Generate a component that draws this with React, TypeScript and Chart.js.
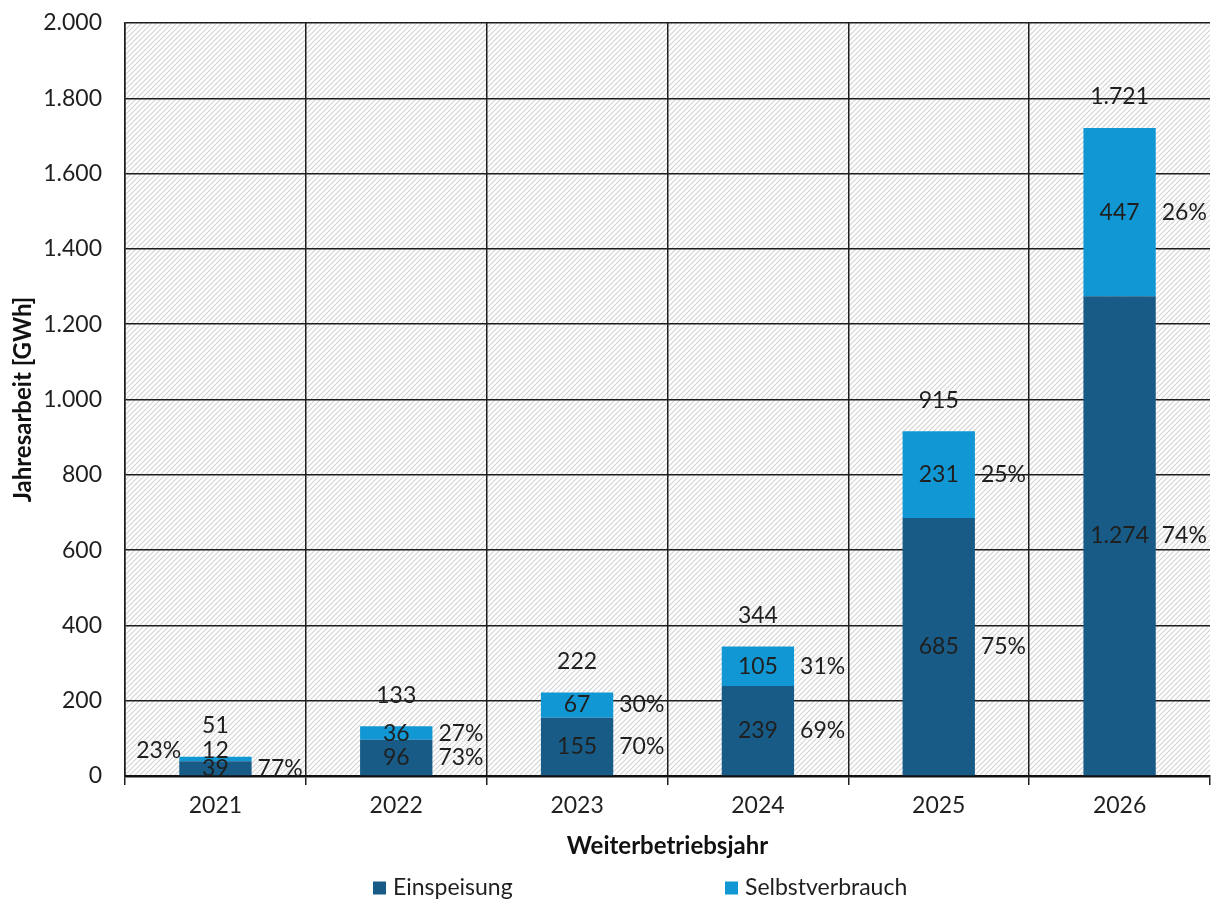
import React, { useEffect, useRef } from "react";
import { Chart, registerables } from "chart.js";

Chart.register(...registerables);

const categories = ["2021", "2022", "2023", "2024", "2025", "2026"];
const einspeisung = [39, 96, 155, 239, 685, 1274];
const selbstverbrauch = [12, 36, 67, 105, 231, 447];
const totals = [51, 133, 222, 344, 915, 1721];
const einspeisungPct = ["77%", "73%", "70%", "69%", "75%", "74%"];
const selbstverbrauchPct = ["23%", "27%", "30%", "31%", "25%", "26%"];
const seriesNames = ["Einspeisung", "Selbstverbrauch"];
const seriesColors = ["#175b86", "#1198d4"];
const yTitle = "Jahresarbeit [GWh]";
const xTitle = "Weiterbetriebsjahr";
const yMin = 0;
const yMax = 2000;
const yStep = 200;

const FONT = "Lato";
const TEXT = "#1f1f1f";
const LINE = "#1e1e1e";

const fmt = (v: number) =>
  String(Math.round(v)).replace(/\B(?=(\d{3})+(?!\d))/g, ".");

function makePattern(ctx: CanvasRenderingContext2D) {
  const s = 5;
  const c = document.createElement("canvas");
  c.width = s;
  c.height = s;
  const g = c.getContext("2d")!;
  g.fillStyle = "#ffffff";
  g.fillRect(0, 0, s, s);
  g.strokeStyle = "#d4d4d4";
  g.lineWidth = 1.2;
  g.beginPath();
  g.moveTo(-1, s + 1);
  g.lineTo(s + 1, -1);
  g.moveTo(-1, 1);
  g.lineTo(1, -1);
  g.moveTo(s - 1, s + 1);
  g.lineTo(s + 1, s - 1);
  g.stroke();
  return ctx.createPattern(c, "repeat");
}

const hatchPlugin = {
  id: "hatchBg",
  beforeDraw(chart: any) {
    const { ctx, chartArea } = chart;
    const p = makePattern(ctx);
    if (!p) return;
    ctx.save();
    ctx.fillStyle = p;
    ctx.fillRect(
      chartArea.left,
      chartArea.top,
      chartArea.right - chartArea.left,
      chartArea.bottom - chartArea.top
    );
    ctx.restore();
  },
};

const labelPlugin = {
  id: "barLabels",
  afterDatasetsDraw(chart: any) {
    const { ctx } = chart;
    const m0 = chart.getDatasetMeta(0);
    const m1 = chart.getDatasetMeta(1);
    ctx.save();
    ctx.font = `23px ${FONT}`;
    ctx.textBaseline = "middle";
    ctx.fillStyle = TEXT;
    for (let i = 0; i < categories.length; i++) {
      const b0 = m0.data[i];
      const b1 = m1.data[i];
      const left = b0.x - b0.width / 2;
      const right = b0.x + b0.width / 2;
      const y0 = (b0.y + b0.base) / 2;
      const y1 = Math.min((b1.y + b1.base) / 2, y0 - 18);

      ctx.textAlign = "center";
      ctx.fillText(fmt(einspeisung[i]), b0.x, y0);
      ctx.fillText(fmt(selbstverbrauch[i]), b1.x, y1);
      ctx.fillText(fmt(totals[i]), b1.x, b1.y - 31);

      ctx.textAlign = "left";
      ctx.fillText(einspeisungPct[i], right + 6, y0);
      if (Math.abs(b1.base - b1.y) < 8) {
        ctx.textAlign = "right";
        ctx.fillText(selbstverbrauchPct[i], left + 2, y1);
      } else {
        ctx.fillText(selbstverbrauchPct[i], right + 6, y1);
      }
    }
    ctx.restore();
  },
};

const legendPlugin = {
  id: "customLegend",
  afterDraw(chart: any) {
    const { ctx } = chart;
    const items = [
      { x: 373, label: chart.data.datasets[0].label, color: chart.data.datasets[0].backgroundColor },
      { x: 725, label: chart.data.datasets[1].label, color: chart.data.datasets[1].backgroundColor },
    ];
    const yc = 888;
    ctx.save();
    ctx.font = `23px ${FONT}`;
    ctx.textBaseline = "middle";
    ctx.textAlign = "left";
    for (const it of items) {
      ctx.fillStyle = it.color;
      ctx.fillRect(it.x, yc - 6.5, 13, 13);
      ctx.fillStyle = TEXT;
      ctx.fillText(it.label, it.x + 20, yc);
    }
    ctx.restore();
  },
};

export default function App() {
  const ref = useRef<HTMLCanvasElement | null>(null);

  useEffect(() => {
    if (!ref.current) return;
    const chart = new Chart(ref.current, {
      type: "bar",
      data: {
        labels: categories,
        datasets: [
          {
            label: seriesNames[0],
            data: einspeisung,
            backgroundColor: seriesColors[0],
            borderWidth: 0,
            barPercentage: 0.4,
            categoryPercentage: 1,
          },
          {
            label: seriesNames[1],
            data: selbstverbrauch,
            backgroundColor: seriesColors[1],
            borderWidth: 0,
            barPercentage: 0.4,
            categoryPercentage: 1,
          },
        ],
      },
      options: {
        responsive: false,
        animation: false,
        layout: { padding: { top: 23, right: 6, bottom: 37, left: 0 } },
        plugins: {
          legend: { display: false },
          tooltip: { enabled: false },
        },
        scales: {
          x: {
            stacked: true,
            offset: true,
            grid: {
              offset: true,
              color: (c: any) => (c.type === "tick" ? LINE : "rgba(0,0,0,0)"),
              lineWidth: 1.5,
              tickColor: LINE,
              tickLength: 9,
              drawTicks: true,
            },
            border: { display: true, color: "#111", width: 2.5 },
            ticks: {
              font: { family: FONT, size: 23 },
              color: TEXT,
              padding: 7,
            },
            title: {
              display: true,
              text: xTitle,
              font: { family: FONT, size: 24, weight: "bold" },
              color: "#111",
              padding: { top: 0, bottom: 2 },
            },
            afterFit: (s: any) => {
              s.height = 87;
            },
          },
          y: {
            stacked: true,
            min: yMin,
            max: yMax,
            ticks: {
              stepSize: yStep,
              callback: (v: any) => fmt(Number(v)),
              font: { family: FONT, size: 23 },
              color: TEXT,
              padding: 23,
            },
            grid: { color: LINE, lineWidth: 1.5, drawTicks: false },
            border: { display: true, color: LINE, width: 1.5 },
            title: {
              display: true,
              text: yTitle,
              font: { family: FONT, size: 24, weight: "bold" },
              color: "#111",
              padding: { top: 8.6, bottom: 0 },
            },
            afterFit: (s: any) => {
              s.width = 125;
              s.paddingTop = 14;
              s.paddingBottom = 14;
            },
          },
        },
      },
      plugins: [hatchPlugin, labelPlugin, legendPlugin],
    } as any);
    return () => chart.destroy();
  }, []);

  return (
    <div style={{ position: "absolute", left: 0, top: 0, width: 1216, height: 900, background: "#fff" }}>
      <canvas ref={ref} width={1216} height={900} style={{ display: "block" }} />
    </div>
  );
}
